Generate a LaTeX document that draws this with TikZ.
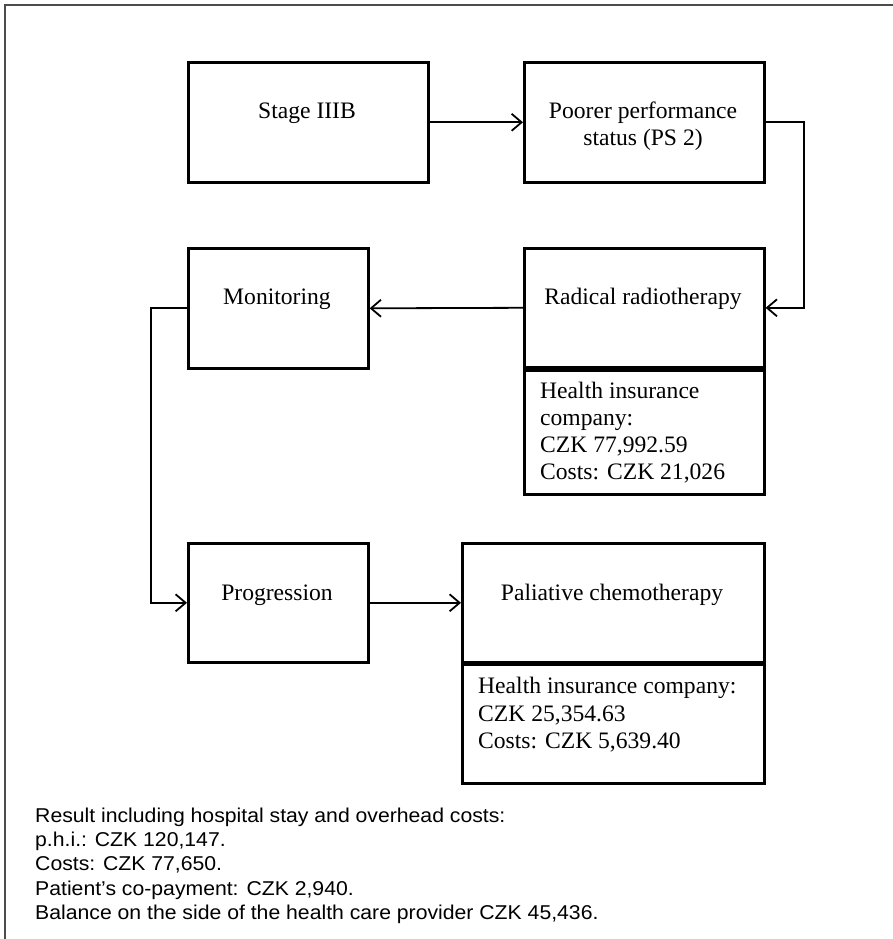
\documentclass[tikz,border=0pt]{standalone}
\usepackage{fontspec}
\setmainfont{Liberation Serif}
\newfontfamily\arialf{Liberation Sans}[FakeStretch=1.06]
\usetikzlibrary{arrows.meta}
\begin{document}
\begin{tikzpicture}[x=1pt,y=-1pt,
  box/.style={draw=black,line width=2.6pt,rectangle,inner sep=0pt,anchor=north west},
  lbl/.style={anchor=base,inner sep=0pt,font=\fontsize{23.6}{26}\selectfont},
  info/.style={anchor=base west,inner sep=0pt,font=\fontsize{23.6}{26}\selectfont},
  note/.style={anchor=base west,inner sep=0pt,font=\arialf\fontsize{20}{24}\selectfont},
  conn/.style={draw=black,line width=1.8pt,-{Straight Barb[length=10pt,width=17pt,line width=1.8pt]}},
  frame/.style={draw=black!70,line width=1.8pt}]
\useasboundingbox (0,0) rectangle (893,939);
% frame (top and left edges)
\coordinate (fTR) at (893,5);
\coordinate (fTL) at (5,5);
\coordinate (fBL) at (5,939);
\draw[frame] (fTR) -- (fTL) -- (fBL);
% boxes
\node[box,minimum width=240pt,minimum height=120pt] (stage) at (187,61) {};
\node[box,minimum width=240pt,minimum height=120pt] (poorer) at (523,61) {};
\node[box,minimum width=180pt,minimum height=120pt] (monit) at (187,247) {};
\node[box,minimum width=240pt,minimum height=119pt] (radical) at (523,247) {};
\node[box,minimum width=240pt,minimum height=124pt] (info1) at (523,369) {};
\node[box,minimum width=180pt,minimum height=119pt] (progr) at (187,542) {};
\node[box,minimum width=302pt,minimum height=119pt] (palia) at (461,542) {};
\node[box,minimum width=302pt,minimum height=119pt] (info2) at (461,663) {};
% labels
\node[lbl] (tStage) at (307,119) {Stage IIIB};
\node[lbl] (tPoor1) at (643,119) {Poorer performance};
\node[lbl] (tPoor2) at (643,145) {status (PS 2)};
\node[lbl] (tMonit) at (277,304) {Monitoring};
\node[lbl] (tRad) at (643,304) {Radical radiotherapy};
\node[lbl] (tProg) at (277,600) {Progression};
\node[lbl] (tPal) at (612,600) {Paliative chemotherapy};
\node[info] (i1a) at (540,398) {Health insurance};
\node[info] (i1b) at (540,425) {company:};
\node[info] (i1c) at (540,452) {CZK 77,992.59};
\node[info] (i1d) at (540,479) {Costs: CZK 21,026};
\node[info] (i2a) at (478,693) {Health insurance company:};
\node[info] (i2b) at (478,721) {CZK 25,354.63};
\node[info] (i2c) at (478,748) {Costs: CZK 5,639.40};
% bottom note
\node[note] (n1) at (35,822) {Result including hospital stay and overhead costs:};
\node[note] (n2) at (35,846) {p.h.i.: CZK 120,147.};
\node[note] (n3) at (35,870) {Costs: CZK 77,650.};
\node[note] (n4) at (35,895) {Patient’s co-payment: CZK 2,940.};
\node[note] (n5) at (35,919) {Balance on the side of the health care provider CZK 45,436.};
% connectors
\draw[conn] (stage.east) -- (poorer.west);
\draw[conn] (poorer.east) -- ++(38,0) |- (radical.east);
\draw[conn] (radical.west) -- (monit.east);
\draw[conn] (monit.west) -- ++(-36,0) |- (progr.west);
\draw[conn] (progr.east) -- (palia.west);
\end{tikzpicture}
\end{document}
